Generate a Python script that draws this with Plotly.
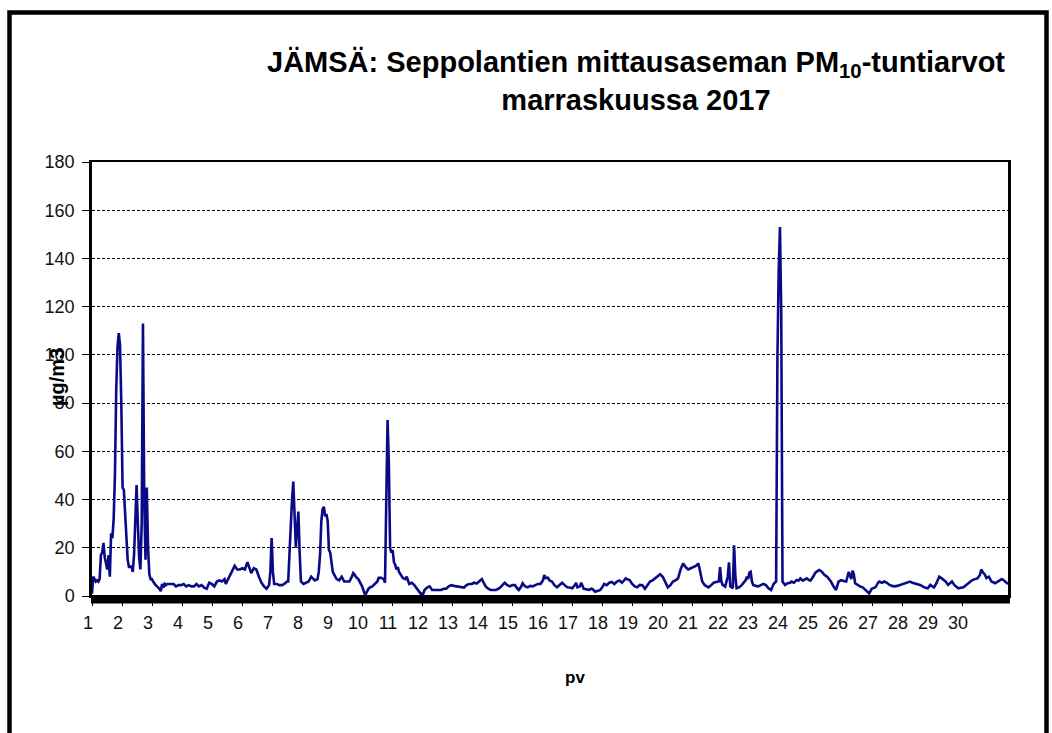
import plotly.graph_objects as go

# ---- data (hour index from 1 Nov 00:00, PM10 µg/m3) ----
HOURS = [0, 1, 2, 3, 4, 5, 6, 7, 8, 9, 10, 11, 12, 13, 14, 15, 16, 17, 18, 19, 20, 21, 22, 23,
         24, 25, 26, 27, 28, 29, 30, 31, 32, 33, 34, 35, 36, 37, 38, 39, 40, 41, 42, 43, 44, 45, 46, 47,
         48, 49, 50, 51, 52, 53, 54, 55, 56, 57, 58, 59, 60, 62, 64, 66, 68, 70, 72, 74, 76, 78, 80, 82,
         84, 86, 88, 90, 92, 94, 96, 98, 100, 102, 104, 105, 107, 109, 111, 112, 114, 116, 118, 120, 122,
         124, 125, 127, 129, 131, 133, 135, 137, 139, 140, 141, 142, 143, 145, 147, 149, 151, 153, 154,
         155, 156, 157, 158, 159, 160, 161, 162, 163, 164, 166, 168, 170, 172, 174, 175, 177, 178, 179,
         180, 181, 182, 183, 184, 185, 186, 187, 188, 189, 190, 192, 194, 196, 198, 200, 202, 204, 205,
         206, 207, 209, 210, 212, 214, 215, 217, 218, 220, 222, 224, 225, 227, 229, 230, 231, 232, 233,
         234, 235, 236, 237, 238, 239, 240, 241, 242, 244, 246, 247, 249, 251, 253, 255, 257, 258, 260,
         261, 263, 265, 267, 269, 271, 274, 276, 278, 280, 282, 284, 286, 288, 290, 292, 294, 296, 298,
         300, 302, 304, 306, 307, 309, 311, 313, 315, 317, 319, 321, 323, 324, 326, 328, 330, 332, 334,
         335, 337, 338, 340, 342, 344, 346, 348, 350, 352, 354, 355, 356, 358, 359, 361, 363, 365, 367,
         369, 371, 373, 375, 377, 379, 380, 381, 383, 384, 386, 388, 390, 392, 393, 395, 397, 399, 401,
         402, 404, 406, 408, 410, 412, 414, 416, 418, 419, 420, 422, 424, 426, 428, 430, 432, 434, 436,
         438, 440, 442, 444, 446, 448, 450, 452, 454, 456, 458, 460, 462, 464, 466, 468, 470, 472, 474,
         476, 477, 479, 481, 484, 486, 488, 490, 492, 493, 494, 495, 497, 499, 500, 501, 503, 504, 505,
         506, 508, 510, 512, 513, 514, 515, 516, 517, 518, 519, 521, 523, 525, 527, 529, 531, 533, 535,
         537, 538, 539, 540, 541, 542, 544, 546, 548, 549, 551, 553, 555, 556, 558, 560, 561, 563, 564,
         566, 568, 570, 571, 573, 575, 577, 579, 580, 582, 584, 586, 588, 590, 592, 594, 595, 596, 597,
         598, 599, 601, 603, 605, 607, 609, 610, 612, 613, 615, 617, 618, 620, 622, 624, 626, 628, 630,
         632, 634, 636, 638, 640, 642, 644, 646, 648, 650, 652, 654, 656, 657, 658, 660, 661, 663, 665,
         667, 669, 670, 672, 674, 675, 677, 678, 680, 682, 684, 686, 688, 690, 691, 693, 695, 697, 698,
         699, 701, 702, 704, 706, 708, 709, 711, 712, 714, 715, 717, 719]

PM10 = [1, 8, 7, 6, 6.5, 6, 7, 17, 18, 22, 16, 14, 11, 17, 8, 26, 24, 32, 50, 85, 103, 109, 104, 80,
        45, 44, 32, 22, 15, 12, 12, 12.5, 10, 17, 30, 46, 30, 16, 11, 30, 113, 40, 15, 45, 20, 9, 7, 7,
        6, 5, 4.5, 4, 3.5, 3, 2, 5, 3.5, 5, 4.5, 5, 5, 5, 5, 4, 4.5, 4.5, 5, 4, 4.5, 4, 4, 5,
        4, 4.5, 3.5, 3, 5.5, 5, 4, 6, 6.5, 6, 7, 5, 7, 9.5, 11.5, 12.5, 11, 11, 11.5, 11, 14,
        11, 9.5, 11.5, 11, 8, 5.5, 4, 3, 4.5, 10, 24, 10, 5, 5, 4.5, 4.5, 5, 6, 6,
        20, 30, 40, 47.5, 30, 20, 28, 35, 18, 6, 5, 5.5, 6, 8, 7, 6.5, 7, 10, 17,
        31, 36, 37, 33, 34, 31, 19, 18, 14, 10, 9, 7, 6.5, 8, 6, 6, 6, 8, 9.5,
        9, 8, 7, 6, 4, 1, 1, 3, 3.5, 4, 5, 6, 7.5, 7.5, 7, 5.5, 40, 73, 55,
        20, 18, 19, 14, 13, 11, 12, 10, 9, 7.5, 7, 8, 5, 5.5, 4.5, 3, 1.5, 1, 1,
        2.5, 3.5, 4, 2.5, 2.5, 2.5, 2.5, 3, 3, 4, 4.5, 4.2, 4, 4, 3.8, 3.5, 4.5, 5, 5,
        5.5, 5.2, 6, 7, 6, 4, 3, 2.5, 2.5, 2.5, 3, 3.8, 5, 5.5, 4.5, 4, 4.5, 4.5, 3,
        2.5, 4, 5.3, 4, 3.6, 4.2, 4, 4.5, 5, 5, 6.5, 8.7, 7.5, 7.5, 6.5, 6, 4.5, 3.6, 4.5,
        5.5, 4.5, 3.6, 3.5, 3.2, 4.5, 5.5, 3.6, 4, 5.5, 3, 2.8, 2.5, 3, 2.8, 1.8, 2.2, 2.5, 4,
        5, 4.5, 5.5, 5.8, 5, 6, 6.4, 5.5, 6.5, 7.3, 7, 6.6, 5, 4, 3.6, 4.6, 4.5, 3, 4.5,
        6, 6.5, 7.3, 8, 9, 8, 6, 3.6, 4.5, 6, 6.5, 7.3, 11, 13.5, 12, 11, 11.5, 12, 12.5,
        13.5, 10.8, 6, 4.5, 3.6, 4.5, 5.5, 5.8, 6, 12, 6, 4.6, 3.9, 8, 14, 4, 3.2, 21, 8,
        3.2, 3.6, 4.5, 6, 6.5, 8, 7, 9.7, 10, 6, 4.6, 4.2, 4, 4.5, 5, 4.5, 3.2, 2.5, 5,
        6, 98, 135, 153, 118, 6, 4.6, 5.3, 5.5, 6, 5.5, 6.6, 6.5, 7.3, 6.4, 7, 7.3, 6.5, 6.4,
        8, 9.8, 10.5, 10.8, 10, 8.7, 8, 6.6, 6, 4, 2.5, 6, 6.6, 6.2, 6, 10, 8, 7, 10.5,
        9, 5.3, 4.5, 3.9, 3.6, 2.5, 1.5, 1.1, 3, 3.2, 3.6, 5.5, 6, 5.5, 6, 5.5, 4.6, 4.2, 4,
        4.2, 4.6, 5, 5.3, 5.6, 6, 5.5, 5.3, 5, 4.6, 4, 3.4, 3.2, 4, 4.6, 3.8, 3.6, 5.5, 8,
        7.3, 6.5, 6, 4.6, 5.5, 6, 4.5, 4, 3.2, 3.4, 3.6, 4.5, 5.3, 6.2, 6.6, 7, 7.3, 8.7, 11,
        10, 8.7, 7.5, 8, 6, 5.5, 5.3, 6, 6.4, 7, 6.8, 6, 5]

DAY_LABELS = [str(d) for d in range(1, 31)]
Y_TICKS = list(range(0, 181, 20))

# ---- layout geometry (pixels in a 1052x733 page) ----
W, H = 1052, 733
PL, PR, PT, PB = 92, 1008, 162, 596          # plot-area edges
PW, PH = PR - PL, PB - PT
N_HOURS = 720
PX_PER_HOUR = PW / (N_HOURS - 1)
LABEL_SPACING_PX = 30                          # spacing of the day labels in the picture
tickvals = [i * LABEL_SPACING_PX / PX_PER_HOUR for i in range(len(DAY_LABELS))]

FONT = "Arial, Liberation Sans, sans-serif"


def px_x(p):
    return (p - PL) / PW


def px_y(p):
    return (PB - p) / PH


fig = go.Figure()
fig.add_trace(go.Scatter(
    x=HOURS, y=PM10, mode="lines",
    line=dict(color="#0a0a86", width=2.6),
    hoverinfo="skip", showlegend=False,
))

fig.update_layout(
    width=W, height=H,
    margin=dict(l=PL, r=W - PR, t=PT, b=H - PB),
    paper_bgcolor="white", plot_bgcolor="white",
    font=dict(family=FONT, color="black"),
    title=dict(
        text="<b>JÄMSÄ: Seppolantien mittausaseman PM<sub>10</sub>-tuntiarvot<br>marraskuussa 2017</b>",
        x=636 / W, xanchor="center", y=1 - 72 / H, yanchor="top",
        font=dict(size=29, family=FONT, color="black"),
    ),
    xaxis=dict(
        range=[0, N_HOURS - 1], tickmode="array", tickvals=tickvals, ticktext=DAY_LABELS,
        ticks="outside", ticklen=8, tickwidth=1, tickcolor="black",
        ticklabelshift=-4, ticklabelstandoff=2,
        tickfont=dict(size=18, family=FONT, color="#111"),
        showgrid=False, zeroline=False,
        showline=True, mirror=True, linecolor="black", linewidth=1.5,
    ),
    yaxis=dict(
        range=[0, 180], tickmode="array", tickvals=Y_TICKS,
        ticks="outside", ticklen=7, tickcolor="black", tickwidth=1.2,
        ticklabelstandoff=4,
        tickfont=dict(size=18, family=FONT, color="#111"),
        showgrid=True, gridcolor="black", gridwidth=1, griddash="3px,2px",
        zeroline=False,
        showline=True, mirror=True, linecolor="black", linewidth=2.5,
    ),
    annotations=[
        dict(text="<b>µg/m3</b>", textangle=-90, xref="paper", yref="paper",
             x=px_x(57), y=px_y(377), xanchor="center", yanchor="middle",
             showarrow=False, font=dict(size=20, family=FONT, color="black")),
        dict(text="<b>pv</b>", xref="paper", yref="paper",
             x=px_x(575), y=px_y(677), xanchor="center", yanchor="middle",
             showarrow=False, font=dict(size=17, family=FONT, color="black")),
    ],
    shapes=[
        # outer chart frame
        dict(type="rect", xref="paper", yref="paper", layer="above",
             x0=px_x(9.5), x1=px_x(1046.5), y0=px_y(740), y1=px_y(12.5),
             line=dict(color="black", width=4.5), fillcolor="rgba(0,0,0,0)"),
        # heavy black band of hourly category ticks under the plot area
        dict(type="rect", xref="paper", yref="paper", layer="above",
             x0=px_x(91), x1=px_x(1010), y0=px_y(603.5), y1=px_y(595),
             line=dict(width=0), fillcolor="black"),
    ],
)

fig.write_html("out.html", config={"displayModeBar": False},
               post_script="document.body.style.margin='0';")
